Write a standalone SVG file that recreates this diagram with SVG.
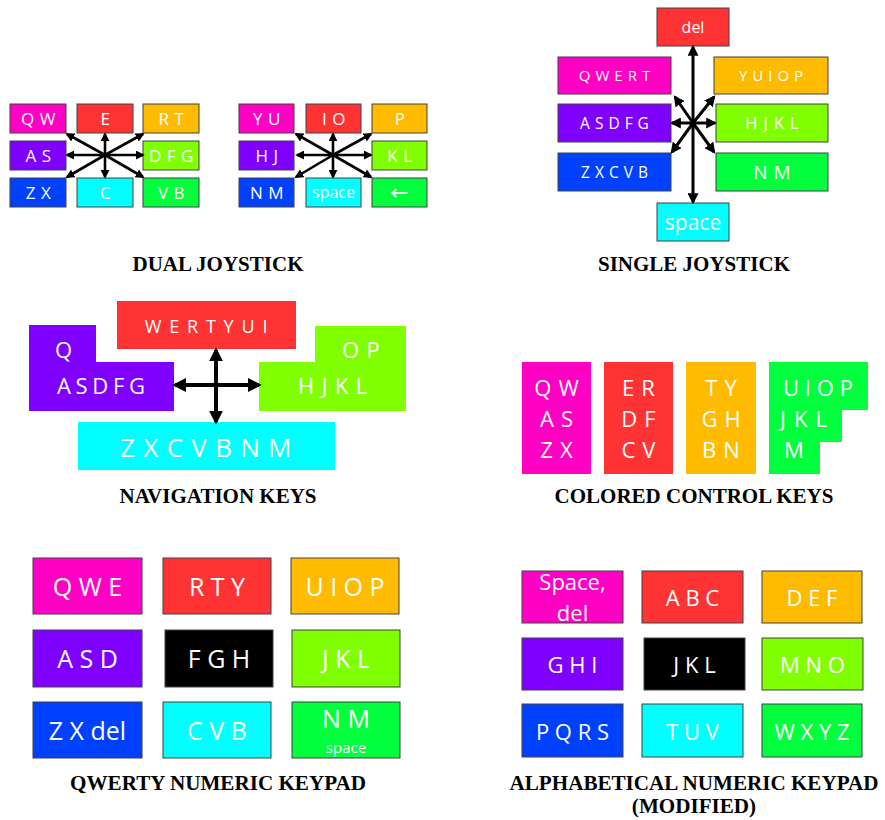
<svg xmlns="http://www.w3.org/2000/svg" width="885" height="820" viewBox="0 0 885 820">
  <style>
    .k { font-family: "Open Sans", "DejaVu Sans", sans-serif; fill: #fff; text-anchor: middle; }
    .kl { font-family: "Open Sans", "DejaVu Sans", sans-serif; fill: #fff; text-anchor: start; }
    .b { stroke: #404040; stroke-width: 1; }
    .t { font-family: "Liberation Serif", "Times New Roman", serif; font-weight: bold; fill: #000; text-anchor: middle; font-size: 21px; }
    .tc { font-family: "Liberation Serif", "Times New Roman", serif; font-weight: bold; fill: #000; text-anchor: middle; font-size: 22px; }
    .pink { fill: #ff00c4; }
    .red { fill: #ff3333; }
    .orange { fill: #ffbb00; }
    .purple { fill: #8000ff; }
    .lime { fill: #80ff00; }
    .blue { fill: #0040ff; }
    .cyan { fill: #00ffff; }
    .green { fill: #00ff3c; }
    .black { fill: #000; }
    .a1 { stroke: #000; stroke-width: 2.6; fill: none; marker-end: url(#ah1); }
    .a2 { stroke: #000; stroke-width: 3; fill: none; marker-end: url(#ah2); }
    .a3 { stroke: #000; stroke-width: 4; fill: none; marker-end: url(#ah3); }
  </style>
  <defs>
    <marker id="ah1" viewBox="0 0 10 10" refX="8" refY="5" markerWidth="9" markerHeight="9" markerUnits="userSpaceOnUse" orient="auto-start-reverse">
      <path d="M0,0 L10,5 L0,10 z" fill="#000"/>
    </marker>
    <marker id="ah2" viewBox="0 0 10 10" refX="8" refY="5" markerWidth="11" markerHeight="11" markerUnits="userSpaceOnUse" orient="auto-start-reverse">
      <path d="M0,0 L10,5 L0,10 z" fill="#000"/>
    </marker>
    <marker id="ah3" viewBox="0 0 10 10" refX="8" refY="5" markerWidth="14" markerHeight="14" markerUnits="userSpaceOnUse" orient="auto-start-reverse">
      <path d="M0,0 L10,5 L0,10 z" fill="#000"/>
    </marker>
  </defs>
  <rect width="885" height="820" fill="#fff"/>

  <!-- Dual joystick, left stick -->
  <g id="dual-left" font-size="17" letter-spacing="5.5">
    <g id="dl-qw"><rect class="pink b" x="10" y="104" width="56" height="29"/><text class="k" x="41" y="125">QW</text></g>
    <g id="dl-e"><rect class="red b" x="77" y="104" width="56" height="29"/><text class="k" x="108" y="125">E</text></g>
    <g id="dl-rt"><rect class="orange b" x="143" y="104" width="56" height="29"/><text class="k" x="174" y="125">RT</text></g>
    <g id="dl-as"><rect class="purple b" x="10" y="141" width="56" height="29"/><text class="k" x="41" y="162">AS</text></g>
    <g id="dl-dfg"><rect class="lime b" x="143" y="141" width="56" height="29"/><text class="k" x="174" y="162">DFG</text></g>
    <g id="dl-zx"><rect class="blue b" x="10" y="178" width="56" height="29"/><text class="k" x="41" y="199">ZX</text></g>
    <g id="dl-c"><rect class="cyan b" x="77" y="178" width="56" height="29"/><text class="k" x="108" y="199">C</text></g>
    <g id="dl-vb"><rect class="green b" x="143" y="178" width="56" height="29"/><text class="k" x="174" y="199">VB</text></g>
  </g>

  <!-- Dual joystick, right stick -->
  <g id="dual-right" font-size="17" letter-spacing="5.5">
    <g id="dr-yu"><rect class="pink b" x="239" y="104" width="55" height="29"/><text class="k" x="269.5" y="125">YU</text></g>
    <g id="dr-io"><rect class="red b" x="306" y="104" width="55" height="29"/><text class="k" x="336.5" y="125">IO</text></g>
    <g id="dr-p"><rect class="orange b" x="372" y="104" width="55" height="29"/><text class="k" x="402.5" y="125">P</text></g>
    <g id="dr-hj"><rect class="purple b" x="239" y="141" width="55" height="29"/><text class="k" x="269.5" y="162">HJ</text></g>
    <g id="dr-kl"><rect class="lime b" x="372" y="141" width="55" height="29"/><text class="k" x="402.5" y="162">KL</text></g>
    <g id="dr-nm"><rect class="blue b" x="239" y="178" width="55" height="29"/><text class="k" x="269.5" y="199">NM</text></g>
    <g id="dr-space"><rect class="cyan b" x="306" y="178" width="55" height="29"/><text class="k" x="333.5" y="198" letter-spacing="0" font-size="16">space</text></g>
    <g id="dr-back"><rect class="green b" x="372" y="178" width="55" height="29"/><text class="k" x="399.5" y="200" letter-spacing="0" font-family="DejaVu Sans, sans-serif" font-size="22">←</text></g>
  </g>

  <!-- Single joystick -->
  <g id="single">
    <g id="s-del"><rect class="red b" x="657" y="8" width="72" height="38"/><text class="k" x="693" y="33" font-size="16">del</text></g>
    <g id="s-qwert"><rect class="pink b" x="558" y="57" width="113" height="37"/><text class="k" x="617" y="81" font-size="15" letter-spacing="5">QWERT</text></g>
    <g id="s-yuiop"><rect class="orange b" x="714" y="57" width="114" height="37"/><text class="k" x="773.5" y="81" font-size="15" letter-spacing="5">YUIOP</text></g>
    <g id="s-asdfg"><rect class="purple b" x="558" y="104" width="113" height="38"/><text class="k" x="617" y="129" font-size="15.5" letter-spacing="5">ASDFG</text></g>
    <g id="s-hjkl"><rect class="lime b" x="716" y="104" width="112" height="38"/><text class="k" x="775" y="129" font-size="16.5" letter-spacing="6">HJKL</text></g>
    <g id="s-zxcvb"><rect class="blue b" x="558" y="153" width="113" height="38"/><text class="k" x="617" y="178" font-size="15.5" letter-spacing="5">ZXCVB</text></g>
    <g id="s-nm"><rect class="green b" x="716" y="153" width="112" height="38"/><text class="k" x="775" y="179" font-size="19" letter-spacing="6">NM</text></g>
    <g id="s-space"><rect class="cyan b" x="657" y="203" width="72" height="38"/><text class="k" x="693" y="230" font-size="21">space</text></g>
  </g>

  <!-- Navigation keys -->
  <g id="nav">
    <g id="n-wertyui"><rect class="red" x="117" y="301" width="179" height="48"/><text class="k" x="210" y="333" font-size="18" letter-spacing="7.8">WERTYUI</text></g>
    <g id="n-asdfg"><path class="purple" d="M29,325 H96 V362 H174 V411 H29 Z"/>
      <text class="kl" x="55" y="358" font-size="22">Q</text>
      <text class="kl" x="57" y="394" font-size="22" letter-spacing="4.7">ASDFG</text></g>
    <g id="n-hjkl"><path class="lime" d="M315,326 H406 V411 H259 V362 H315 Z"/>
      <text class="kl" x="342" y="358" font-size="22" letter-spacing="7.5">OP</text>
      <text class="kl" x="298" y="394" font-size="22" letter-spacing="7.4">HJKL</text></g>
    <g id="n-zxcvbnm"><rect class="cyan" x="78" y="422" width="257" height="48"/><text class="k" x="210" y="457" font-size="26" letter-spacing="8.3">ZXCVBNM</text></g>
  </g>

  <!-- Colored control keys -->
  <g id="colored" font-size="22">
    <g id="c-pink"><rect class="pink" x="522" y="362" width="69" height="112"/>
      <text class="k" x="560" y="396" letter-spacing="7">QW</text>
      <text class="k" x="560" y="427" letter-spacing="7">AS</text>
      <text class="k" x="560" y="458" letter-spacing="7">ZX</text></g>
    <g id="c-red"><rect class="red" x="604" y="362" width="69" height="112"/>
      <text class="k" x="642" y="396" letter-spacing="7">ER</text>
      <text class="k" x="642" y="427" letter-spacing="7">DF</text>
      <text class="k" x="642" y="458" letter-spacing="7">CV</text></g>
    <g id="c-orange"><rect class="orange" x="686" y="362" width="70" height="112"/>
      <text class="k" x="724.5" y="396" letter-spacing="7">TY</text>
      <text class="k" x="724.5" y="427" letter-spacing="7">GH</text>
      <text class="k" x="724.5" y="458" letter-spacing="7">BN</text></g>
    <g id="c-green"><path class="green" d="M769,362 H868 V410 H842 V442 H820 V474 H769 Z"/>
      <text class="kl" x="783" y="396" letter-spacing="5.8">UIOP</text>
      <text class="kl" x="780" y="427" letter-spacing="8">JKL</text>
      <text class="kl" x="784" y="458">M</text></g>
  </g>

  <!-- QWERTY numeric keypad -->
  <g id="qwerty" font-size="25">
    <g id="q-1"><rect class="pink b" x="33" y="558" width="109" height="56"/><text class="k" x="87.5" y="596">Q W E</text></g>
    <g id="q-2"><rect class="red b" x="163" y="558" width="108" height="56"/><text class="k" x="217" y="596">R T Y</text></g>
    <g id="q-3"><rect class="orange b" x="291" y="558" width="108" height="56"/><text class="k" x="345" y="596">U I O P</text></g>
    <g id="q-4"><rect class="purple b" x="33" y="630" width="109" height="57"/><text class="k" x="87.5" y="668">A S D</text></g>
    <g id="q-5"><rect class="black b" x="165" y="630" width="108" height="57"/><text class="k" x="219" y="668">F G H</text></g>
    <g id="q-6"><rect class="lime b" x="292" y="630" width="108" height="57"/><text class="k" x="346" y="668">J K L</text></g>
    <g id="q-7"><rect class="blue b" x="33" y="702" width="109" height="56"/><text class="k" x="87.5" y="740">Z X del</text></g>
    <g id="q-8"><rect class="cyan b" x="163" y="702" width="108" height="56"/><text class="k" x="217" y="740">C V B</text></g>
    <g id="q-9"><rect class="green b" x="292" y="702" width="108" height="56"/><text class="k" x="346" y="728">N M</text><text class="k" x="346" y="753" font-size="15">space</text></g>
  </g>

  <!-- Alphabetical numeric keypad -->
  <g id="alpha" font-size="22">
    <g id="a-1"><rect class="pink b" x="522" y="571" width="101" height="52"/><text class="k" x="572.5" y="590">Space,</text><text class="k" x="572.5" y="621">del</text></g>
    <g id="a-2"><rect class="red b" x="642" y="571" width="101" height="52"/><text class="k" x="692.5" y="606">A B C</text></g>
    <g id="a-3"><rect class="orange b" x="762" y="571" width="100" height="52"/><text class="k" x="812" y="606">D E F</text></g>
    <g id="a-4"><rect class="purple b" x="522" y="638" width="101" height="52"/><text class="k" x="572.5" y="673">G H I</text></g>
    <g id="a-5"><rect class="black b" x="644" y="638" width="101" height="52"/><text class="k" x="694.5" y="673">J K L</text></g>
    <g id="a-6"><rect class="lime b" x="762" y="638" width="101" height="52"/><text class="k" x="812.5" y="673">M N O</text></g>
    <g id="a-7"><rect class="blue b" x="522" y="704" width="101" height="53"/><text class="k" x="572.5" y="740">P Q R S</text></g>
    <g id="a-8"><rect class="cyan b" x="642" y="704" width="101" height="53"/><text class="k" x="692.5" y="740">T U V</text></g>
    <g id="a-9"><rect class="green b" x="762" y="704" width="100" height="53"/><text class="k" x="812" y="740">W X Y Z</text></g>
  </g>

  <!-- Connectors: joystick and cursor arrows -->
  <g id="connectors">
    <line class="a1" x1="105" y1="155" x2="105" y2="134"/>
    <line class="a1" x1="105" y1="155" x2="105" y2="177"/>
    <line class="a1" x1="105" y1="155" x2="67" y2="155"/>
    <line class="a1" x1="105" y1="155" x2="143" y2="155"/>
    <line class="a1" x1="105" y1="155" x2="67" y2="134"/>
    <line class="a1" x1="105" y1="155" x2="143" y2="134"/>
    <line class="a1" x1="105" y1="155" x2="67" y2="177"/>
    <line class="a1" x1="105" y1="155" x2="143" y2="177"/>

    <line class="a1" x1="333" y1="155" x2="333" y2="134"/>
    <line class="a1" x1="333" y1="155" x2="333" y2="177"/>
    <line class="a1" x1="333" y1="155" x2="297" y2="155"/>
    <line class="a1" x1="333" y1="155" x2="371" y2="155"/>
    <line class="a1" x1="333" y1="155" x2="296" y2="134"/>
    <line class="a1" x1="333" y1="155" x2="371" y2="134"/>
    <line class="a1" x1="333" y1="155" x2="296" y2="177"/>
    <line class="a1" x1="333" y1="155" x2="371" y2="177"/>

    <line class="a2" x1="693" y1="47" x2="693" y2="202" marker-start="url(#ah2)"/>
    <line class="a2" x1="693" y1="123" x2="672" y2="123"/>
    <line class="a2" x1="693" y1="123" x2="715" y2="123"/>
    <line class="a2" x1="693" y1="123" x2="675" y2="97"/>
    <line class="a2" x1="693" y1="123" x2="714" y2="97"/>
    <line class="a2" x1="693" y1="123" x2="672" y2="152"/>
    <line class="a2" x1="693" y1="123" x2="714" y2="152"/>

    <line class="a3" x1="216" y1="385" x2="216" y2="350"/>
    <line class="a3" x1="216" y1="385" x2="216" y2="422"/>
    <line class="a3" x1="216" y1="385" x2="175" y2="385"/>
    <line class="a3" x1="216" y1="385" x2="259" y2="385"/>
  </g>

  <!-- Section titles -->
  <g id="titles">
    <text class="t" x="218" y="271">DUAL JOYSTICK</text>
    <text class="t" x="694" y="271">SINGLE JOYSTICK</text>
    <text class="t" x="218" y="503">NAVIGATION KEYS</text>
    <text class="t" x="694" y="503">COLORED CONTROL KEYS</text>
    <text class="tc" transform="translate(218,790) scale(0.96,1)">QWERTY NUMERIC KEYPAD</text>
    <text class="tc" transform="translate(694,790) scale(0.96,1)">ALPHABETICAL NUMERIC KEYPAD</text>
    <text class="tc" transform="translate(694,813) scale(0.96,1)">(MODIFIED)</text>
  </g>
</svg>
